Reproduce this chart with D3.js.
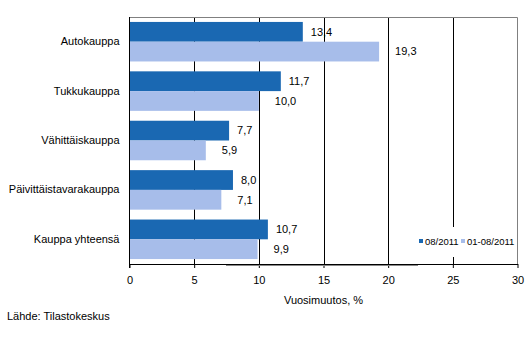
<!DOCTYPE html>
<html><head><meta charset="utf-8">
<script src="https://cdn.jsdelivr.net/npm/d3@7"></script>
<style>body{margin:0;background:#fff}svg{display:block;font-family:"Liberation Sans",Arial,sans-serif}</style>
</head><body><svg id="c" width="532" height="358"></svg>
<script>
const categories = ["Autokauppa","Tukkukauppa","Vähittäiskauppa","Päivittäistavarakauppa","Kauppa yhteensä"];
const seriesNames = ["08/2011","01-08/2011"];
const valuesMonth = [13.4, 11.7, 7.7, 8.0, 10.7];
const valuesYTD = [19.3, 10.0, 5.9, 7.1, 9.9];
const xTicks = [0,5,10,15,20,25,30];
const colors = ["#1a68b2","#a7bdea"];

const svg = d3.select("#c");
const L=129.5, R=517.5, T=17, B=264;
const x = d3.scaleLinear().domain([0,30]).range([L,R]);
const y = d3.scaleBand().domain(categories).range([T,B]).paddingInner(0.2).paddingOuter(0.1);
const sub = d3.scaleBand().domain([0,1]).range([0,y.bandwidth()]);

// gridlines
svg.append("g").selectAll("line").data(xTicks.filter(t=>t>0&&t<30)).join("line")
 .attr("x1",d=>Math.round(x(d))+0.5).attr("x2",d=>Math.round(x(d))+0.5)
 .attr("y1",T).attr("y2",B).attr("stroke","#000").attr("stroke-width",1);
// plot border top/right
svg.append("path").attr("d",`M${L},${T+0.5}H${R}V${B}`).attr("fill","none").attr("stroke","#808080");

// bars
const data = categories.map((c,i)=>({c, v:[valuesMonth[i], valuesYTD[i]]}));
const g = svg.append("g");
data.forEach(d=>{
  d.v.forEach((v,s)=>{
    g.append("rect").attr("x",x(0)).attr("y",y(d.c)+sub(s))
     .attr("width",x(v)-x(0)).attr("height",sub.bandwidth()).attr("fill",colors[s]);
    g.append("text").attr("x",x(v)+(s===0?8:16)).attr("y",y(d.c)+sub(s)+sub.bandwidth()/2)
     .attr("dy","0.35em").attr("font-size",11).attr("fill","#000")
     .text(d3.format(".1f")(v).replace(".",","));
  });
});

// legend
const lg = svg.append("g");
lg.append("rect").attr("x",414).attr("y",227).attr("width",100).attr("height",30).attr("fill","#fff");
const lx=[419,461];
seriesNames.forEach((n,i)=>{
  lg.append("rect").attr("x",lx[i]).attr("y",239).attr("width",4).attr("height",4).attr("fill",colors[i]);
  lg.append("text").attr("x",lx[i]+6).attr("y",241.5).attr("dy","0.35em").attr("font-size",9.5).text(n);
});

// x axis
const xa = svg.append("g").attr("transform",`translate(0,${B})`)
 .call(d3.axisBottom(x).tickValues(xTicks).tickSize(4).tickSizeOuter(0).tickFormat(d3.format("d")));
xa.select(".domain").attr("stroke","#000");
xa.selectAll(".tick line").attr("stroke","#000");
xa.selectAll("text").attr("font-size",11).attr("font-family","Liberation Sans, Arial, sans-serif").attr("dy","0.9em").attr("y",10).attr("fill","#000");
svg.append("line").attr("x1",226).attr("x2",418).attr("y1",B+1.5).attr("y2",B+1.5).attr("stroke","#888");

// y axis
const ya = svg.append("g").attr("transform",`translate(${L},0)`)
 .call(d3.axisLeft(y).tickSize(0).tickPadding(10));
ya.select(".domain").remove();
svg.append("line").attr("x1",L).attr("x2",L).attr("y1",T).attr("y2",B+4).attr("stroke","#000");
ya.selectAll("text").attr("font-size",11).attr("font-family","Liberation Sans, Arial, sans-serif").attr("fill","#000");

// titles
svg.append("text").attr("x",(L+R)/2).attr("y",300).attr("dy","0.35em").attr("text-anchor","middle").attr("font-size",11).text("Vuosimuutos, %");
svg.append("text").attr("x",7).attr("y",316).attr("dy","0.35em").attr("font-size",11).text("Lähde: Tilastokeskus");
</script></body></html>
